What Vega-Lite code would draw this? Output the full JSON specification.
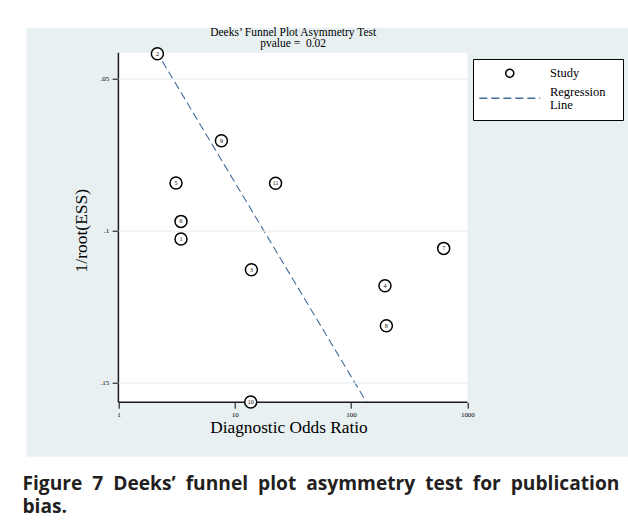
{
  "$schema": "https://vega.github.io/schema/vega-lite/v6.json",
  "background": "white",
  "padding": {"left": 21.7, "top": 26.7, "right": 0, "bottom": 0},
  "autosize": {"type": "pad"},
  "datasets": {
    "studies": [
      {"study": 1, "x": 3.452, "y": 0.10273, "series": "Study"},
      {"study": 2, "x": 2.164, "y": 0.04178, "series": "Study"},
      {"study": 3, "x": 13.91, "y": 0.11283, "series": "Study"},
      {"study": 4, "x": 195.7, "y": 0.11809, "series": "Study"},
      {"study": 5, "x": 3.127, "y": 0.08431, "series": "Study"},
      {"study": 6, "x": 3.452, "y": 0.09694, "series": "Study"},
      {"study": 7, "x": 625.8, "y": 0.10582, "series": "Study"},
      {"study": 8, "x": 201.2, "y": 0.13125, "series": "Study"},
      {"study": 9, "x": 7.68, "y": 0.07039, "series": "Study"},
      {"study": 10, "x": 13.72, "y": 0.15635, "series": "Study"},
      {"study": 11, "x": 22.45, "y": 0.08441, "series": "Study"}
    ],
    "regression": [
      {"x": 2.389, "y": 0.04431, "series": "Regression Line"},
      {"x": 135.5, "y": 0.15635, "series": "Regression Line"}
    ],
    "plotregion": [
      {"x": 1, "x2": 1000, "y": 0.04145, "y2": 0.15641}
    ],
    "axislines": [
      {"x": 1, "x2": 1, "y": 0.04145, "y2": 0.15641},
      {"x": 1, "x2": 1000, "y": 0.15641, "y2": 0.15641}
    ]
  },
  "title": {
    "text": ["Figure\u00a0 7\u00a0 Deeks’\u00a0 funnel\u00a0 plot\u00a0 asymmetry\u00a0 test\u00a0 for\u00a0 publication", "bias."],
    "orient": "bottom",
    "anchor": "start",
    "frame": "group",
    "offset": 18.5,
    "dx": -4.3,
    "font": "Open Sans",
    "fontSize": 19.2,
    "fontWeight": "bold",
    "color": "#231f20",
    "lineHeight": 22.5,
    "baseline": "top"
  },
  "config": {
    "view": {"stroke": null},
    "legend": {
      "orient": "none",
      "legendX": 446.3,
      "legendY": 31.3,
      "title": null,
      "strokeColor": "black",
      "fillColor": "white",
      "padding": 8,
      "symbolOffset": 22.5,
      "labelOffset": 34,
      "labelFont": "Liberation Serif",
      "labelFontSize": 12.5,
      "labelColor": "black",
      "symbolSize": 64,
      "symbolStrokeWidth": 1.5,
      "rowPadding": 4,
      "zindex": 2
    }
  },
  "vconcat": [
    {
      "width": 602,
      "height": 429,
      "view": {"fill": "#e8f0f2", "stroke": null},
      "title": {
        "text": ["Deeks’ Funnel Plot Asymmetry Test", "pvalue = \u00a00.02"],
        "orient": "top",
        "anchor": "middle",
        "frame": "group",
        "offset": -21.7,
        "dx": -34.5,
        "font": "Liberation Serif",
        "fontSize": 11.5,
        "fontWeight": "normal",
        "color": "black",
        "lineHeight": 11
      },
      "encoding": {
        "x": {
          "field": "x",
          "type": "quantitative",
          "scale": {"type": "log", "domain": [0.1628, 24366], "nice": false, "zero": false},
          "axis": {
            "values": [1, 10, 100, 1000],
            "format": "d",
            "offset": -54.5,
            "domain": false,
            "grid": false,
            "tickSize": 6,
            "tickColor": "black",
            "tickWidth": 1,
            "labelFont": "Liberation Serif",
            "labelFontSize": 7,
            "labelColor": "black",
            "labelPadding": 2,
            "labelFlush": false,
            "labelOverlap": false,
            "title": "Diagnostic Odds Ratio",
            "titleFont": "Liberation Serif",
            "titleFontSize": 17.3,
            "titleFontWeight": "normal",
            "titleColor": "black",
            "titleX": 261.8,
            "titleY": 25.2,
            "titleBaseline": "middle",
            "titleAlign": "center"
          }
        },
        "y": {
          "field": "y",
          "type": "quantitative",
          "scale": {"domain": [0.033224, 0.174342], "reverse": true, "nice": false, "zero": false},
          "axis": {
            "values": [0.05, 0.1, 0.15],
            "labelExpr": "replace(format(datum.value, '.2~f'), '0.', '.')",
            "offset": -91.7,
            "domain": false,
            "grid": true,
            "gridColor": "#e8f0f2",
            "gridWidth": 1.3,
            "zindex": 1,
            "tickSize": 6.3,
            "tickColor": "black",
            "tickWidth": 1,
            "labelFont": "Liberation Serif",
            "labelFontSize": 7,
            "labelColor": "black",
            "labelPadding": 3.4,
            "title": "1/root(ESS)",
            "titleFont": "Liberation Serif",
            "titleFontSize": 17.5,
            "titleFontWeight": "normal",
            "titleColor": "black",
            "titleX": -37,
            "titleY": 202.5,
            "titleAngle": -90,
            "titleBaseline": "middle",
            "titleAlign": "center"
          }
        }
      },
      "layer": [
        {
          "data": {"name": "plotregion"},
          "mark": {"type": "rect", "fill": "white"},
          "encoding": {"x2": {"field": "x2"}, "y2": {"field": "y2"}}
        },
        {
          "data": {"name": "axislines"},
          "mark": {"type": "rule", "color": "#1a1a1a", "strokeWidth": 1.5},
          "encoding": {"x2": {"field": "x2"}, "y2": {"field": "y2"}}
        },
        {
          "data": {"name": "regression"},
          "mark": {"type": "line", "strokeWidth": 1.1},
          "encoding": {
            "color": {
              "field": "series",
              "type": "nominal",
              "scale": {"domain": ["Study", "Regression Line"], "range": ["black", "#416b9a"]},
              "legend": {
                "labelExpr": "datum.label == 'Regression Line' ? ['Regression\u00a0\u00a0\u00a0\u200b', 'Line'] : datum.label",
                "encode": {"labels": {"update": {"dy": {"signal": "datum.value === 'Regression Line' ? -6.5 : 0"}, "lineHeight": {"value": 13}}}}
              }
            },
            "strokeDash": {
              "field": "series",
              "type": "nominal",
              "scale": {"domain": ["Study", "Regression Line"], "range": [[1, 0], [8, 4]]},
              "legend": {
                "labelExpr": "datum.label == 'Regression Line' ? ['Regression\u00a0\u00a0\u00a0\u200b', 'Line'] : datum.label",
                "encode": {"labels": {"update": {"dy": {"signal": "datum.value === 'Regression Line' ? -6.5 : 0"}, "lineHeight": {"value": 13}}}}
              }
            }
          }
        },
        {
          "data": {"name": "studies"},
          "mark": {"type": "point", "filled": false, "fill": "white", "strokeWidth": 1.5, "size": 144, "opacity": 1},
          "encoding": {
            "color": {
              "field": "series",
              "type": "nominal",
              "scale": {"domain": ["Study", "Regression Line"], "range": ["black", "#416b9a"]},
              "legend": {
                "labelExpr": "datum.label == 'Regression Line' ? ['Regression\u00a0\u00a0\u00a0\u200b', 'Line'] : datum.label",
                "encode": {"labels": {"update": {"dy": {"signal": "datum.value === 'Regression Line' ? -6.5 : 0"}, "lineHeight": {"value": 13}}}}
              }
            },
            "shape": {
              "field": "series",
              "type": "nominal",
              "scale": {"domain": ["Study", "Regression Line"], "range": ["circle", "M-7.6,0H7.6"]},
              "legend": {
                "labelExpr": "datum.label == 'Regression Line' ? ['Regression\u00a0\u00a0\u00a0\u200b', 'Line'] : datum.label",
                "encode": {"labels": {"update": {"dy": {"signal": "datum.value === 'Regression Line' ? -6.5 : 0"}, "lineHeight": {"value": 13}}}}
              }
            }
          }
        },
        {
          "data": {"name": "studies"},
          "mark": {"type": "text", "font": "Liberation Serif", "fontSize": 6, "baseline": "middle", "align": "center", "color": "black"},
          "encoding": {"text": {"field": "study", "type": "nominal"}}
        }
      ]
    }
  ]
}
